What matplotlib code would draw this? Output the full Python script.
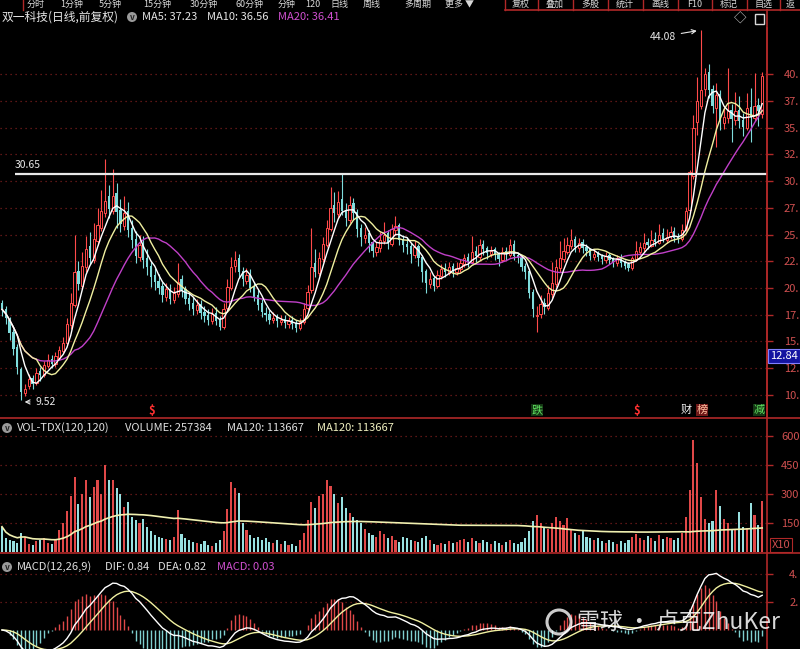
import numpy as np
import pandas as pd
import matplotlib
matplotlib.use('Agg')
import matplotlib.pyplot as plt
from matplotlib.patches import Rectangle, Circle
from matplotlib.lines import Line2D
from matplotlib.transforms import IdentityTransform

plt.rcParams['font.family'] = ['Noto Sans CJK SC', 'DejaVu Sans']

# daily candles (price in yuan)
opens = [
    18.6, 18.0, 17.0, 15.9, 14.5, 12.4, 10.2, 10.8, 11.6, 11.1,
    12.2, 11.9, 12.7, 13.4, 12.9, 13.5, 14.1, 14.9, 16.5, 18.4,
    21.6, 20.2, 22.0, 23.9, 22.6, 24.4, 25.6, 27.0, 28.6, 27.2,
    28.9, 27.3, 25.8, 27.2, 25.6, 24.6, 22.9, 24.1, 22.8, 22.1,
    21.2, 20.7, 20.2, 19.2, 19.9, 18.9, 19.4, 20.8, 19.9, 19.1,
    18.6, 17.9, 18.5, 17.8, 17.5, 16.9, 17.7, 17.0, 16.4, 18.1,
    20.0, 22.1, 22.8, 21.6, 20.7, 21.3, 20.1, 19.3, 18.6, 17.7,
    17.6, 17.0, 17.3, 16.8, 17.1, 16.6, 17.0, 16.7, 16.3, 16.8,
    18.1, 19.8, 22.3, 21.4, 22.7, 24.0, 25.5, 27.8, 26.9, 28.3,
    27.3, 26.4, 27.9, 27.1, 25.6, 24.7, 25.1, 24.3, 23.4, 23.7,
    24.4, 25.1, 24.1, 25.4, 25.9, 24.6, 24.1, 23.9, 23.1, 23.9,
    22.9, 21.6, 20.4, 20.9, 20.2, 21.1, 21.9, 21.4, 22.1, 21.5,
    21.8, 22.2, 22.9, 22.4, 23.5, 22.9, 24.1, 23.7, 23.2, 23.6,
    23.2, 22.6, 23.5, 23.1, 24.1, 23.1, 22.9, 22.1, 21.6, 19.6,
    17.4, 17.6, 18.6, 18.1, 19.4, 20.4, 21.9, 22.7, 23.4, 23.9,
    24.6, 23.7, 24.3, 23.8, 23.6, 22.9, 23.3, 23.0, 22.6, 23.1,
    22.7, 22.3, 22.9, 22.4, 22.2, 21.9, 22.7, 23.4, 23.7, 24.3,
    23.9, 24.6, 24.2, 25.1, 24.5, 24.9, 25.3, 24.8, 24.6, 25.5,
    27.3, 30.5, 35.5, 37.0, 38.6, 40.2, 38.6, 36.8, 38.1, 35.4,
    35.9, 36.6, 35.7, 36.6, 35.7, 35.0, 36.9, 35.9, 37.1, 36.3,
]
closes = [
    18.0, 17.2, 15.8, 14.3, 12.6, 10.3, 10.6, 11.5, 11.0, 12.1,
    11.9, 12.8, 13.3, 12.9, 13.6, 14.2, 14.9, 16.6, 18.6, 21.5,
    20.4, 22.1, 23.6, 22.8, 24.6, 25.9, 27.2, 28.1, 27.4, 28.6,
    27.1, 26.0, 27.0, 25.4, 24.5, 23.0, 24.0, 22.6, 22.0, 21.0,
    20.6, 20.0, 19.3, 19.9, 19.0, 19.5, 20.6, 19.8, 19.0, 18.5,
    18.0, 18.4, 17.7, 17.4, 17.0, 17.6, 16.9, 16.4, 18.0, 20.1,
    22.0, 22.6, 21.5, 20.8, 21.2, 20.0, 19.2, 18.4, 17.8, 17.5,
    17.0, 17.2, 16.9, 17.0, 16.7, 16.9, 16.6, 16.3, 16.8, 18.0,
    19.6, 22.0, 21.5, 22.8, 24.1, 25.6, 27.5, 27.0, 28.0, 27.2,
    26.5, 27.8, 27.0, 25.5, 24.8, 25.0, 24.2, 23.5, 23.8, 24.5,
    25.0, 24.2, 25.5, 25.8, 24.5, 24.0, 23.8, 23.2, 23.8, 22.8,
    21.5, 20.5, 20.8, 20.2, 21.2, 21.8, 21.5, 22.0, 21.6, 21.9,
    22.3, 22.8, 22.5, 23.4, 23.0, 24.0, 23.6, 23.3, 23.5, 23.1,
    22.7, 23.4, 23.2, 24.0, 23.0, 22.8, 22.0, 21.5, 19.5, 18.0,
    17.5, 18.5, 18.2, 19.5, 20.5, 22.0, 22.8, 23.5, 24.0, 24.5,
    23.8, 24.2, 23.7, 23.5, 23.0, 23.2, 22.9, 22.7, 23.0, 22.6,
    22.4, 22.8, 22.3, 22.1, 21.9, 22.8, 23.5, 23.8, 24.2, 24.0,
    24.5, 24.3, 25.0, 24.6, 24.8, 25.2, 24.7, 24.6, 25.4, 27.2,
    30.8, 35.0, 37.5, 38.5, 40.0, 38.5, 37.0, 38.0, 35.5, 36.0,
    36.5, 35.8, 36.5, 35.6, 35.05, 36.8, 36.0, 37.0, 36.5, 39.85,
]
highs = [
    18.9, 18.3, 17.3, 16.2, 14.8, 12.6, 11.0, 12.0, 11.9, 12.5,
    12.6, 13.2, 13.8, 13.7, 14.0, 14.6, 15.4, 17.2, 19.5, 25.0,
    22.5, 23.4, 24.9, 25.2, 26.1, 27.5, 29.2, 32.1, 29.6, 31.1,
    29.8, 28.3, 28.6, 28.0, 26.4, 25.3, 25.0, 24.9, 23.6, 22.5,
    21.9, 21.3, 20.6, 20.5, 20.4, 20.1, 22.3, 21.2, 20.2, 19.6,
    19.2, 19.0, 18.9, 18.3, 18.0, 18.1, 18.2, 17.4, 18.6, 20.8,
    22.9, 23.5, 23.2, 22.0, 21.9, 21.8, 20.6, 19.8, 19.0, 18.2,
    17.9, 17.8, 17.6, 17.5, 17.5, 17.3, 17.4, 17.0, 17.2, 18.6,
    20.3, 25.6, 23.6, 23.4, 24.8, 26.4, 29.4, 29.0, 29.1, 30.65,
    27.9, 28.6, 28.4, 27.4, 26.0, 25.7, 25.4, 24.4, 24.3, 25.2,
    26.2, 25.4, 26.0, 26.7, 26.1, 25.0, 24.8, 24.2, 24.4, 24.1,
    23.1, 21.8, 21.5, 21.1, 21.7, 22.2, 22.3, 22.4, 22.3, 22.4,
    22.7, 23.2, 23.3, 24.9, 23.9, 24.6, 24.5, 23.9, 23.9, 23.8,
    23.4, 23.8, 23.8, 24.6, 24.5, 23.4, 23.0, 22.3, 21.8, 19.9,
    18.3, 19.3, 19.1, 20.3, 22.4, 22.7, 24.4, 24.7, 24.8, 25.5,
    24.9, 24.7, 24.6, 24.1, 23.7, 23.6, 23.5, 23.2, 23.4, 23.3,
    22.9, 23.1, 23.2, 22.6, 22.4, 23.0, 24.4, 24.3, 25.1, 24.7,
    25.4, 25.2, 26.0, 25.6, 25.5, 25.8, 25.7, 25.1, 26.0, 27.6,
    31.0, 36.2, 39.7, 44.08, 40.6, 40.9, 39.0, 39.2, 38.5, 36.9,
    40.6, 37.2, 38.3, 37.9, 36.4, 38.2, 38.7, 40.1, 37.8, 40.2,
]
lows = [
    17.4, 16.6, 15.1, 13.7, 12.0, 9.52, 9.9, 10.6, 10.6, 10.9,
    11.3, 11.7, 12.5, 12.5, 12.6, 13.3, 13.9, 14.7, 16.2, 18.2,
    19.8, 19.9, 21.5, 22.2, 22.3, 24.0, 25.3, 26.6, 26.5, 26.9,
    25.6, 25.2, 25.4, 24.8, 23.7, 22.3, 22.5, 21.9, 21.2, 20.1,
    19.8, 19.4, 18.7, 18.8, 18.5, 18.6, 19.2, 19.2, 18.5, 17.9,
    17.5, 17.6, 17.1, 16.8, 16.5, 16.6, 16.5, 16.1, 16.2, 17.9,
    19.8, 21.5, 20.9, 20.2, 20.4, 19.6, 18.8, 17.9, 17.3, 16.9,
    16.6, 16.7, 16.4, 16.5, 16.3, 16.3, 16.2, 15.9, 16.1, 16.6,
    17.9, 19.5, 21.0, 21.1, 22.4, 23.8, 25.3, 26.2, 26.5, 26.8,
    25.8, 26.1, 26.4, 24.8, 23.9, 24.2, 23.4, 22.9, 23.0, 23.4,
    24.1, 23.6, 23.9, 25.0, 24.0, 23.4, 23.2, 22.3, 22.8, 22.1,
    20.6, 19.5, 20.0, 19.7, 20.0, 20.8, 21.0, 21.2, 21.0, 21.2,
    21.5, 22.0, 22.0, 22.2, 22.4, 22.6, 23.1, 22.7, 22.9, 22.6,
    22.1, 22.4, 22.6, 22.9, 22.6, 22.3, 21.6, 20.8, 19.1, 17.3,
    15.9, 17.2, 17.6, 17.9, 19.1, 20.1, 21.5, 22.4, 23.2, 23.6,
    23.4, 23.4, 23.3, 23.0, 22.6, 22.6, 22.5, 22.2, 22.3, 22.2,
    22.0, 22.1, 22.0, 21.8, 21.6, 21.7, 22.5, 23.1, 23.4, 23.6,
    23.8, 23.9, 24.1, 24.3, 24.2, 24.6, 24.3, 24.2, 24.4, 25.3,
    27.0, 30.2, 34.3, 36.7, 37.9, 37.8, 36.4, 33.2, 34.8, 34.9,
    35.4, 33.6, 35.2, 35.0, 34.2, 34.8, 33.6, 35.6, 35.1, 35.9,
]
# volume, thousands of lots
volumes = [
    131, 75, 60, 55, 48, 97, 80, 40, 35, 55, 62, 70, 45, 40, 60, 114,
    150, 210, 290, 388,
    250, 300, 372, 286, 338, 372, 300, 450, 372,
    372, 330, 300, 235, 260,
    180, 165, 150, 170,
    130, 110, 90, 80, 70, 65, 60, 80, 217,
    95, 70, 60, 50, 45, 40, 55, 35, 30, 45, 60, 110, 220,
    364, 330, 305,
    150, 114, 90, 70, 80, 60, 75, 50, 45, 60, 40, 55, 35, 40, 30, 60,
    100, 165, 260,
    230, 290, 300, 372, 340, 300, 252,
    286, 230, 200, 180,
    165, 150, 120, 100, 90, 80, 110, 95, 70, 85, 60, 50,
    80, 70, 60, 55, 50, 70, 85, 60, 40, 35, 45,
    40, 55, 45, 50, 60, 65, 50, 75, 55, 45, 60, 50, 40, 55, 45, 35, 50, 60, 45, 40, 50,
    70, 110, 160, 190, 150,
    130, 120, 150, 180, 160, 140, 176, 120, 100, 90, 110,
    80, 70, 60, 75, 55, 45, 60, 50, 40, 55, 45, 60, 80, 95, 70, 60, 85, 75, 55, 90,
    65, 80, 70, 60, 75,
    100, 180, 320, 580, 460, 285,
    170, 150, 160, 320, 240, 170, 150, 120, 115, 205, 130, 125, 255, 190, 140, 262,
]

price_ticks = [10, 12.5, 15, 17.5, 20, 22.5, 25, 27.5, 30, 32.5, 35, 37.5, 40]
price_labels = ['10.', '12.', '15.', '17.', '20.', '22.', '25.', '27.', '30.',
                '32.', '35.', '37.', '40.']
vol_ticks = [150, 300, 450, 600]
macd_ticks = [2, 4]
macd_labels = ['2.', '4.']

toolbar_left = [("分时", 36), ("1分钟", 72), ("5分钟", 110), ("15分钟", 157),
                ("30分钟", 204), ("60分钟", 250), ("分钟", 287), ("120", 313),
                ("日线", 339), ("周线", 372), ("多周期", 418), ("更多 ▼", 460)]
toolbar_right = [("复权", 521), ("叠加", 555), ("多股", 590), ("统计", 625),
                 ("画线", 660), ("F10", 695), ("标记", 729), ("自选", 764), ("返", 790)]
toolbar_seps = [23, 505, 538, 573, 608, 643, 678, 712, 747, 780]

W, H = 800, 649
RED = '#ff4a4a'
CYAN = '#7fdcdc'
AXRED = '#b02828'
GRID = '#7a1e1e'
TICKTXT = '#d05050'


def fx(px):
    return px / W


def fy(py):
    return 1 - py / H


o = np.array(opens)
c = np.array(closes)
h = np.array(highs)
l = np.array(lows)
v = np.array(volumes)
n = len(c)
x = np.arange(n)
up = c >= o

close_s = pd.Series(c)
ma5 = close_s.rolling(5, min_periods=1).mean()
ma10 = close_s.rolling(10, min_periods=1).mean()
ma20 = close_s.rolling(20, min_periods=1).mean()
vol_ma = pd.Series(v).rolling(120, min_periods=1).mean()
ema12 = close_s.ewm(span=12, adjust=False).mean()
ema26 = close_s.ewm(span=26, adjust=False).mean()
dif = ema12 - ema26
dea = dif.ewm(span=9, adjust=False).mean()
hist = 2 * (dif - dea)

fig = plt.figure(figsize=(8, 6.49), dpi=100, facecolor='black')

ax = fig.add_axes([0, fy(418), fx(767), (418 - 28) / H])
axv = fig.add_axes([0, fy(553), fx(767), (553 - 418) / H])
axm = fig.add_axes([0, 0, fx(767), (H - 553) / H])

xlim = (-2 / 3.82, 765 / 3.82)
for a, ticks, labels, pad in [
        (ax, price_ticks, price_labels, 8),
        (axv, vol_ticks, [str(t) for t in vol_ticks], 6),
        (axm, macd_ticks, macd_labels, 12)]:
    a.set_facecolor('black')
    a.set_xlim(*xlim)
    for s in ['top', 'left', 'bottom']:
        a.spines[s].set_visible(False)
    a.spines['right'].set_color(AXRED)
    a.spines['right'].set_linewidth(1.2)
    a.set_xticks([])
    a.yaxis.tick_right()
    a.set_yticks(ticks)
    a.set_yticklabels(labels)
    a.tick_params(axis='y', colors=AXRED, labelcolor=TICKTXT, length=4, width=1,
                  pad=pad, labelsize=8)
    a.yaxis.grid(True, linestyle=(0, (1, 3)), color=GRID, linewidth=0.9)
    a.set_axisbelow(True)

# price panel
ax.set_ylim(7.85, 44.3)
ax.vlines(x[up], l[up], h[up], color=RED, lw=0.8, zorder=2)
ax.vlines(x[~up], l[~up], h[~up], color=CYAN, lw=0.8, zorder=2)
ax.bar(x[up], np.maximum(c - o, 0.05)[up], bottom=o[up], width=0.6,
       facecolor='black', edgecolor=RED, lw=0.7, zorder=3)
ax.bar(x[~up], np.maximum(o - c, 0.05)[~up], bottom=c[~up], width=0.6,
       color=CYAN, lw=0, zorder=3)
ax.plot(x, ma20, color='#c040c8', lw=1, zorder=4)
ax.plot(x, ma10, color='#f0f0a0', lw=1, zorder=4)
ax.plot(x, ma5, color='white', lw=1, zorder=5)

ax.hlines(30.65, 13 / 3.82, xlim[1], color='#e8e8e8', lw=1.6, zorder=6)
ax.text(13 / 3.82, 31.0, '30.65', color='#e8e8e8', fontsize=7.5, va='bottom')
ax.annotate('44.08', xy=(182.6, 44.08), xytext=(169.5, 43.5), color='#e8e8e8',
            fontsize=7.5, va='center', ha='left',
            arrowprops=dict(arrowstyle='->', color='#e8e8e8', lw=0.8))
ax.annotate('9.52', xy=(5.2, 9.35), xytext=(8.8, 9.35), color='#e8e8e8',
            fontsize=7.5, va='center', ha='left',
            arrowprops=dict(arrowstyle='->', color='#e8e8e8', lw=0.8))

# volume panel
axv.set_ylim(-5, 693)
axv.bar(x[up], v[up], width=0.55, color='#e04848', lw=0, zorder=2)
axv.bar(x[~up], v[~up], width=0.55, color='#98e0e0', lw=0, zorder=2)
axv.plot(x, vol_ma, color='#f0f0b0', lw=1.2, zorder=3)

# macd panel
axm.set_ylim(-1.36, 5.5)
hp = hist >= 0
axm.vlines(x[hp], 0, hist[hp], color='#e04848', lw=1.0)
axm.vlines(x[~hp], 0, hist[~hp], color='#7fcfcf', lw=1.0)
axm.plot(x, dea, color='#f0f0a0', lw=1)
axm.plot(x, dif, color='white', lw=1)

# frame lines
for yy, x0 in [(418, 0), (553, 0), (10, 505)]:
    fig.add_artist(Line2D([fx(x0), 1], [fy(yy), fy(yy)], color=AXRED, lw=1.2,
                          transform=fig.transFigure))
fig.add_artist(Line2D([fx(767), fx(767)], [fy(10), fy(418)], color=AXRED, lw=1.2,
                      transform=fig.transFigure))

# toolbar
for txt, px in toolbar_left + toolbar_right:
    fig.text(fx(px), fy(4.5), txt, color='#d8d8d8', fontsize=6.5, ha='center', va='center')
for px in toolbar_seps:
    fig.add_artist(Line2D([fx(px), fx(px)], [1, fy(10)], color=AXRED, lw=1,
                          transform=fig.transFigure))


def chevron(px, py):
    fig.add_artist(Circle((px, H - py), 5, transform=IdentityTransform(),
                          facecolor='#9a9a9a', edgecolor='none'))
    fig.text(fx(px), fy(py + 0.5), 'v', color='#202020', fontsize=6,
             ha='center', va='center', fontweight='bold')


# header lines
fig.text(fx(2), fy(17), '双一科技(日线,前复权)', color='#e6e6e6', fontsize=8.5, va='center')
chevron(132, 17)
fig.text(fx(142), fy(17), 'MA5: 37.23', color='#e6e6e6', fontsize=8, va='center')
fig.text(fx(207), fy(17), 'MA10: 36.56', color='#e6e6e6', fontsize=8, va='center')
fig.text(fx(278), fy(17), 'MA20: 36.41', color='#d050d0', fontsize=8, va='center')
fig.text(fx(740), fy(19), '◇', color='#d8d8d8', fontsize=9, ha='center', va='center')
fig.add_artist(Rectangle((fx(755), fy(24)), fx(9), 10 / H, transform=fig.transFigure,
                         facecolor='none', edgecolor='#d8d8d8', lw=1))

chevron(7, 428)
fig.text(fx(17), fy(428), 'VOL-TDX(120,120)', color='#e0e0e0', fontsize=8, va='center')
fig.text(fx(125), fy(428), 'VOLUME: 257384', color='#e0e0e0', fontsize=8, va='center')
fig.text(fx(227), fy(428), 'MA120: 113667', color='#e0e0e0', fontsize=8, va='center')
fig.text(fx(317), fy(428), 'MA120: 113667', color='#f0f0c0', fontsize=8, va='center')

chevron(7, 567)
fig.text(fx(17), fy(567), 'MACD(12,26,9)', color='#e0e0e0', fontsize=8, va='center')
fig.text(fx(105), fy(567), 'DIF: 0.84', color='#e0e0e0', fontsize=8, va='center')
fig.text(fx(158), fy(567), 'DEA: 0.82', color='#e0e0e0', fontsize=8, va='center')
fig.text(fx(217), fy(567), 'MACD: 0.03', color='#d050d0', fontsize=8, va='center')

# right side tags
fig.text(fx(770), fy(356), '12.84', color='white', fontsize=8, va='center',
         bbox=dict(facecolor='#1414a0', edgecolor='#8080ff', pad=1.2, lw=0.8))
fig.text(fx(772), fy(545), 'X10', color=TICKTXT, fontsize=8, va='center',
         bbox=dict(facecolor='black', edgecolor=AXRED, pad=1.2, lw=0.8))

# event markers under the candles
fig.text(fx(152), fy(410), '$', color='#ff3030', fontsize=8, ha='center', va='center', fontweight='bold')
fig.text(fx(637), fy(410), '$', color='#ff3030', fontsize=8, ha='center', va='center', fontweight='bold')
fig.text(fx(537), fy(410), '跌', color='#60e060', fontsize=8, ha='center', va='center',
         bbox=dict(facecolor='#143814', edgecolor='none', pad=0.6))
fig.text(fx(686), fy(410), '财', color='#f0f0f0', fontsize=8, ha='center', va='center')
fig.text(fx(702), fy(410), '榜', color='#ffc0a0', fontsize=8, ha='center', va='center',
         bbox=dict(facecolor='#701818', edgecolor='none', pad=0.6))
fig.text(fx(759), fy(410), '减', color='#60e060', fontsize=8, ha='center', va='center',
         bbox=dict(facecolor='#143814', edgecolor='none', pad=0.6))

# watermark
fig.add_artist(Circle((559, H - 622), 12, transform=IdentityTransform(),
                      facecolor='none', edgecolor='white', lw=2.2, alpha=0.8))
fig.text(fx(577), fy(622), '雪球 · 卢克ZhuKer', color='white', alpha=0.85,
         fontsize=16.5, va='center')

fig.savefig('out.png', dpi=100, facecolor='black')
